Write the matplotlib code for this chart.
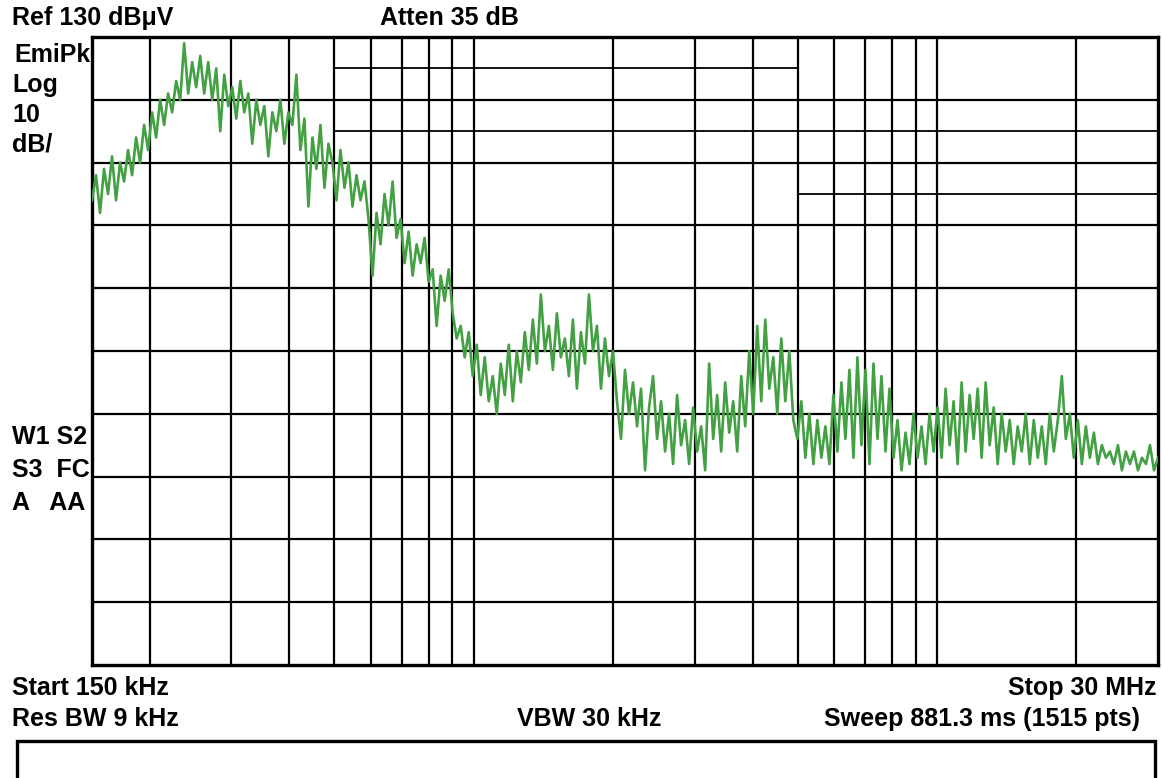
import matplotlib
matplotlib.use('Agg')
import matplotlib.pyplot as plt
import numpy as np
from matplotlib.patches import Rectangle

plt.rcParams['font.family'] = ['Liberation Sans', 'DejaVu Sans']

start_hz = 150e3
stop_hz = 30e6
ref_db = 130
db_per_div = 10

# EmiPk trace, dBuV, evenly spaced on the log sweep
level = [
    104, 108, 102, 109, 105, 111, 104, 110, 107, 112,
    108, 114, 110, 116, 112, 118, 114, 120, 116, 121,
    118, 123, 120, 129, 121, 126, 122, 127, 121, 126,
    120, 125, 115, 124, 119, 122, 117, 123, 118, 121,
    113, 120, 116, 119, 111, 118, 115, 120, 113, 118,
    116, 124, 112, 117, 103, 114, 109, 116, 106, 113,
    110, 104, 112, 106, 110, 103, 108, 104, 107, 101,
    92, 102, 97, 105, 100, 107, 98, 101, 94, 99,
    92, 97, 94, 98, 91, 93, 84, 92, 88, 93,
    86, 82, 84, 79, 83, 76, 81, 73, 79, 72,
    76, 70, 78, 73, 81, 72, 80, 75, 83, 77,
    85, 78, 89, 80, 84, 77, 86, 79, 82, 76,
    85, 74, 83, 78, 89, 80, 84, 74, 82, 76,
    80, 72, 66, 77, 70, 75, 68, 74, 61, 71,
    76, 66, 72, 64, 70, 62, 73, 65, 69, 62,
    71, 64, 68, 61, 78, 66, 73, 64, 75, 67,
    72, 64, 76, 68, 80, 70, 84, 72, 85, 74,
    79, 70, 82, 72, 80, 69, 66, 72, 63, 70,
    62, 69, 63, 68, 62, 73, 64, 75, 66, 77,
    63, 79, 65, 77, 62, 78, 66, 76, 64, 74,
    63, 69, 61, 67, 62, 70, 63, 68, 62, 70,
    64, 71, 63, 74, 65, 72, 62, 75, 64, 73,
    66, 74, 63, 75, 65, 71, 62, 70, 64, 69,
    62, 68, 64, 70, 62, 69, 63, 68, 62, 70,
    64, 69, 76, 66, 70, 63, 69, 62, 68, 63,
    67, 62, 65, 63, 64, 62, 65, 61, 64, 62,
    64, 61, 63, 62, 65, 61, 63,
]

# limit lines: (from Hz, to Hz, dBuV)
limits = [
    (0.5e6, 5e6, 125),
    (0.5e6, 30e6, 115),
    (5e6, 30e6, 105),
]

grid_freqs = [200e3, 300e3, 400e3, 500e3, 600e3, 700e3, 800e3, 900e3,
              1e6, 2e6, 3e6, 4e6, 5e6, 6e6, 7e6, 8e6, 9e6, 10e6, 20e6]

freqs = np.geomspace(start_hz, stop_hz, len(level))

fig = plt.figure(figsize=(11.62, 7.78), dpi=100)
ax = fig.add_axes([92 / 1162, 113 / 778, 1066 / 1162, 628 / 778])
ax.set_xscale('log')
ax.set_xlim(start_hz, stop_hz)
ax.set_ylim(ref_db - 10 * db_per_div, ref_db)

for f in grid_freqs:
    ax.axvline(f, color='black', lw=1.6, zorder=1)
for d in range(ref_db - 9 * db_per_div, ref_db, db_per_div):
    ax.axhline(d, color='black', lw=1.6, zorder=1)
for f0, f1, d in limits:
    ax.plot([f0, f1], [d, d], color='black', lw=1.3, zorder=1)

ax.plot(freqs, level, color='#43a043', lw=1.9, zorder=3)

ax.set_xticks([])
ax.set_yticks([])
ax.xaxis.set_minor_locator(matplotlib.ticker.NullLocator())
ax.yaxis.set_minor_locator(matplotlib.ticker.NullLocator())
for s in ax.spines.values():
    s.set_linewidth(2.4)

fs = 18
kw = dict(fontsize=fs, fontweight='bold', zorder=-1, va='center')
def t(x, y, s, **extra):
    fig.text(x / 1162, 1 - y / 778, s, **kw, **extra)

t(12, 18, 'Ref 130 dB\u03bcV')
t(380, 18, 'Atten 35 dB')
t(14, 55, 'EmiPk')
t(12, 85, 'Log')
t(12, 115, '10')
t(12, 145, 'dB/')
t(12, 437, 'W1 S2')
t(12, 470, 'S3  FC')
t(12, 503, 'A   AA')
t(12, 688, 'Start 150 kHz')
t(1157, 688, 'Stop 30 MHz', ha='right')
t(12, 719, 'Res BW 9 kHz')
t(517, 719, 'VBW 30 kHz')
t(1140, 719, 'Sweep 881.3 ms (1515 pts)', ha='right')

fig.patches.append(Rectangle((17 / 1162, -0.05), 1138 / 1162, 1 - 741 / 778 + 0.05,
                             transform=fig.transFigure, fill=False,
                             edgecolor='black', lw=2.4))

fig.savefig('out.png', dpi=100)
